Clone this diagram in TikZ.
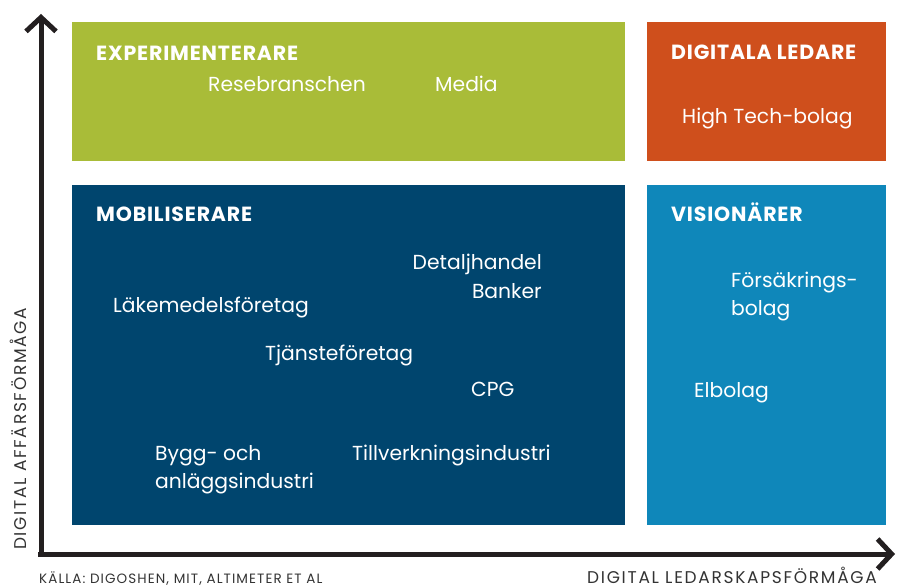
\documentclass[tikz,border=0pt]{standalone}
\usepackage{fontspec}
\setmainfont{Poppins}
\usetikzlibrary{arrows.meta}
\definecolor{expgreen}{HTML}{A9BC38}
\definecolor{leadorange}{HTML}{CF4F1C}
\definecolor{mobblue}{HTML}{00456E}
\definecolor{visblue}{HTML}{0F87BA}
\definecolor{axisink}{HTML}{231F20}
\definecolor{labelink}{HTML}{333333}
\tikzset{
  quad/.style={fill=#1, draw=none},
  head/.style={text=white, font=\fontsize{20.5}{20}\selectfont\bfseries\addfontfeature{LetterSpace=4}, inner sep=0pt, anchor=base west},
  item/.style={text=white, font=\fontsize{20.3}{27.5}\selectfont, inner sep=0pt, anchor=base west, align=left},
  axislabel/.style={text=labelink, font=\fontsize{17}{18}\selectfont\addfontfeature{LetterSpace=10}, inner sep=0pt},
  axisline/.style={draw=axisink, line width=5pt, -{Straight Barb[length=14pt,width=30pt,line join=miter]}},
}
\begin{document}
\begin{tikzpicture}[x=1pt,y=-1pt]
\useasboundingbox (0,0) rectangle (899,588);

% quadrants
\fill[quad=expgreen]   (72,22)  rectangle (625,161);
\fill[quad=leadorange] (647,22) rectangle (886,161);
\fill[quad=mobblue]    (72,185) rectangle (625,525);
\fill[quad=visblue]    (647,185) rectangle (886,525);

% quadrant headings
\node[head] (hexp) at (96,61)  {EXPERIMENTERARE};
\node[head] (hlead) at (671,60) {DIGITALA LEDARE};
\node[head] (hmob) at (96,222) {MOBILISERARE};
\node[head] (hvis) at (671,222) {VISIONÄRER};

% industries (multi-line entries are placed by their last baseline)
\node[item] (rese) at (208,92) {Resebranschen};
\node[item] (media) at (435,92) {Media};
\node[item] (hightech) at (682,124) {High Tech-bolag};
\node[item, anchor=base east] (detalj) at (542,269) {Detaljhandel};
\node[item, anchor=base east] (banker) at (542,298) {Banker};
\node[item] (lakemedel) at (113,312) {Läkemedelsföretag};
\node[item] (tjanste) at (265,360) {Tjänsteföretag};
\node[item] (cpg) at (471,396) {CPG};
\node[item] (bygg) at (155,488) {Bygg- och\\anläggsindustri};
\node[item] (tillverk) at (352,460) {Tillverkningsindustri};
\node[item] (forsak) at (731,315) {Försäkrings-\\bolag};
\node[item] (elbolag) at (694,397) {Elbolag};

% axes
\coordinate (origin) at (41,554);
\coordinate (ytip) at (41,14);
\coordinate (xtip) at (895,554);
\draw[axisline] (origin) -- (ytip);
\draw[axisline] ([xshift=-3pt]origin) -- (xtip);

\node[axislabel, rotate=90, anchor=base west] (ylab) at (27,550) {DIGITAL AFFÄRSFÖRMÅGA};
\node[axislabel, anchor=base east] (xlab) at (877,583) {DIGITAL LEDARSKAPSFÖRMÅGA};
\node[text=labelink, font=\fontsize{13.5}{14}\selectfont\addfontfeature{LetterSpace=8}, inner sep=0pt, anchor=base west] (source) at (39,583) {KÄLLA: DIGOSHEN, MIT, ALTIMETER ET AL};
\end{tikzpicture}
\end{document}
